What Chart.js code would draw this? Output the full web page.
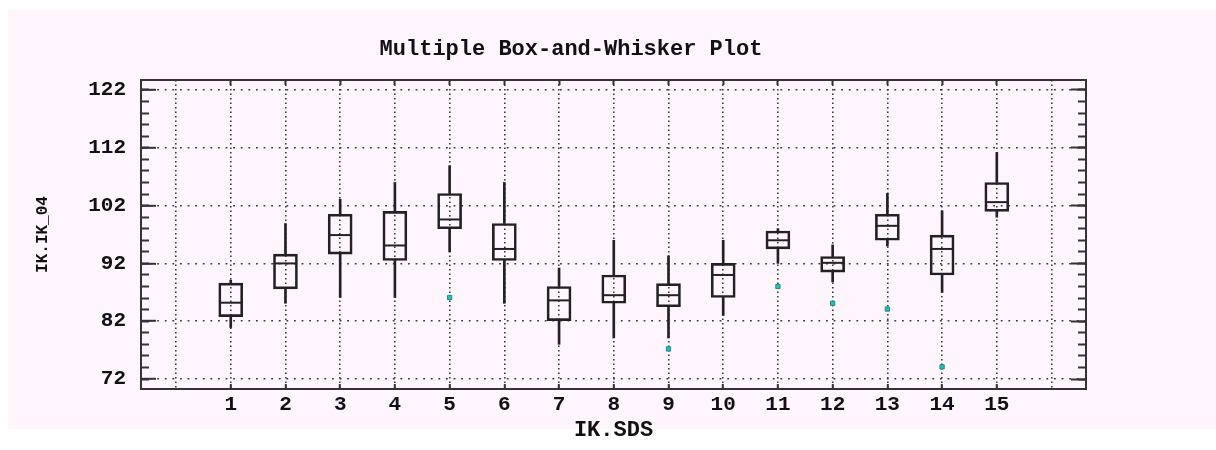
<!DOCTYPE html>
<html>
<head>
<meta charset="utf-8">
<script src="https://cdn.jsdelivr.net/npm/chart.js@4.4.1/dist/chart.umd.min.js"></script>
<style>
  html, body { margin: 0; padding: 0; background: #ffffff; }
  canvas { display: block; }
</style>
</head>
<body>
<canvas id="chart" width="1216" height="450"></canvas>
<script>
// Groups on the horizontal axis (IK.SDS)
const groups = [1, 2, 3, 4, 5, 6, 7, 8, 9, 10, 11, 12, 13, 14, 15];

// Five-number summaries of IK.IK_04 per group
const whiskerLow  = [80.9, 85.1, 86.1, 86.1, 94.0, 85.1, 78.0, 79.1, 79.1, 83.0, 92.0, 88.8, 95.0, 87.0, 100.0];
const q1          = [82.8, 87.6, 93.6, 92.5, 98.0, 92.5, 82.1, 85.1, 84.5, 86.1, 94.5, 90.5, 96.0, 90.0, 101.0];
const median      = [85.2, 92.0, 96.9, 95.1, 99.6, 94.5, 85.6, 86.5, 86.5, 90.0, 96.0, 92.1, 98.5, 94.5, 102.6];
const q3          = [88.6, 93.6, 100.5, 101.0, 104.1, 98.9, 88.0, 90.0, 88.5, 92.0, 97.6, 93.2, 100.5, 96.9, 106.0];
const whiskerHigh = [89.1, 98.9, 103.1, 106.0, 108.9, 106.0, 91.2, 96.0, 93.3, 96.0, 98.0, 95.2, 104.1, 101.1, 111.2];

// Outside points
const outlierGroups = [5, 9, 11, 12, 13, 14];
const outlierValues = [86.1, 77.2, 88.0, 85.1, 84.1, 74.1];

// Axis ticks
const yMajorTicks = [72, 82, 92, 102, 112, 122];
const yMinorTicks = [72, 74, 76, 78, 80, 82, 84, 86, 88, 90, 92, 94, 96, 98, 100, 102, 104, 106, 108, 110, 112, 114, 116, 118, 120, 122];
const xGridTicks = [0, 1, 2, 3, 4, 5, 6, 7, 8, 9, 10, 11, 12, 13, 14, 15, 16];
const xTickLabels = ['1', '2', '3', '4', '5', '6', '7', '8', '9', '10', '11', '12', '13', '14', '15'];

const INK = '#222222';
const AXIS = '#333333';
const DOTS = '#3a3a3a';
const FONT = "'Liberation Mono', 'DejaVu Sans Mono', monospace";

Chart.defaults.font.family = FONT;
Chart.defaults.color = '#111111';

const boxes = groups.map((g, i) => ({ x: g, y: [q1[i], q3[i]] }));
const lowerWhiskers = groups.map((g, i) => ({ x: g, y: [whiskerLow[i], q1[i]] }));
const upperWhiskers = groups.map((g, i) => ({ x: g, y: [q3[i], whiskerHigh[i]] }));
const medians = groups.map((g, i) => ({ x: g, y: median[i] }));
const outliers = outlierGroups.map((g, i) => ({ x: g, y: outlierValues[i] }));

// Light panel behind the whole figure
const pagePanel = {
  id: 'pagePanel',
  beforeDraw(chart) {
    const c = chart.ctx;
    c.save();
    c.fillStyle = '#fff5fd';
    c.fillRect(8, 10, 1208, 419);
    c.restore();
  }
};

const inGroupRange = v => v >= 1 && v <= 15;
const setTicks = list => scale => { scale.ticks = list.map(v => ({ value: v })); };

const X_MIN = -0.64, X_MAX = 16.63;
const Y_MIN = 70.27, Y_MAX = 123.73;

new Chart(document.getElementById('chart'), {
  type: 'bar',
  data: {
    datasets: [
      {
        type: 'scatter', data: outliers, xAxisID: 'x', yAxisID: 'y',
        pointStyle: 'rect', pointRadius: 3, pointHoverRadius: 3,
        backgroundColor: '#34b9b6', borderColor: '#15908e', borderWidth: 1
      },
      {
        type: 'scatter', data: medians, xAxisID: 'x', yAxisID: 'y',
        pointStyle: 'line', pointRadius: 11.5, pointHoverRadius: 11.5,
        borderColor: INK, borderWidth: 2
      },
      {
        type: 'bar', data: boxes, xAxisID: 'x', yAxisID: 'y', grouped: false,
        barThickness: 24, backgroundColor: 'rgba(0,0,0,0)',
        borderColor: INK, borderWidth: 2, borderSkipped: false
      },
      {
        type: 'bar', data: lowerWhiskers, xAxisID: 'x', yAxisID: 'y', grouped: false,
        barThickness: 2, backgroundColor: INK, borderWidth: 0
      },
      {
        type: 'bar', data: upperWhiskers, xAxisID: 'x', yAxisID: 'y', grouped: false,
        barThickness: 2, backgroundColor: INK, borderWidth: 0
      }
    ]
  },
  options: {
    responsive: false,
    animation: false,
    events: [],
    layout: { padding: { left: 0, right: 74, top: 0, bottom: 0 } },
    plugins: {
      legend: { display: false },
      tooltip: { enabled: false },
      title: {
        display: true,
        text: 'Multiple Box-and-Whisker Plot',
        color: '#111111',
        font: { family: FONT, size: 22, weight: 'bold', lineHeight: 1.2 },
        padding: { top: 35.8, bottom: 17.8 }
      }
    },
    scales: {
      x: {
        type: 'linear', position: 'bottom', min: X_MIN, max: X_MAX, offset: false,
        afterBuildTicks: setTicks(xGridTicks),
        afterFit: s => { s.height = 61; },
        grid: {
          offset: false, color: DOTS, lineWidth: 1.6,
          drawTicks: true, tickLength: -5, tickWidth: 2,
          tickColor: c => (c.tick && inGroupRange(c.tick.value)) ? AXIS : 'rgba(0,0,0,0)'
        },
        border: { display: true, color: AXIS, width: 2, dash: [1.6, 2.9] },
        ticks: {
          autoSkip: false, maxRotation: 0, padding: 8.4, color: '#111111',
          font: { size: 21, weight: 'bold' },
          callback: v => inGroupRange(v) ? xTickLabels[v - 1] : ''
        },
        title: {
          display: true, text: 'IK.SDS', color: '#111111',
          font: { size: 22, weight: 'bold', lineHeight: 1.2 },
          padding: { top: 0, bottom: 6.8 }
        }
      },
      xTop: {
        type: 'linear', position: 'top', min: X_MIN, max: X_MAX, offset: false,
        afterBuildTicks: setTicks(xGridTicks),
        afterFit: s => { s.height = 0; },
        grid: {
          offset: false, drawOnChartArea: false, drawTicks: true, tickLength: -5, tickWidth: 2,
          color: AXIS,
          tickColor: c => (c.tick && inGroupRange(c.tick.value)) ? AXIS : 'rgba(0,0,0,0)'
        },
        border: { display: true, color: AXIS, width: 2 },
        ticks: { display: false, autoSkip: false }
      },
      y: {
        type: 'linear', position: 'left', weight: 1, min: Y_MIN, max: Y_MAX,
        afterBuildTicks: setTicks(yMajorTicks),
        afterFit: s => { s.width = 141; },
        grid: {
          color: DOTS, lineWidth: 1.6,
          drawTicks: true, tickLength: -15, tickWidth: 2, tickColor: AXIS
        },
        border: { display: true, color: AXIS, width: 2, dash: [1.8, 5.8] },
        ticks: {
          autoSkip: false, padding: 30, color: '#111111',
          font: { size: 21, weight: 'bold' },
          callback: v => String(v)
        },
        title: {
          display: true, text: 'IK.IK_04', color: '#111111',
          font: { size: 16, weight: 'bold', lineHeight: 1.2 },
          padding: { top: 33.4, bottom: 0 }
        }
      },
      yMinor: {
        type: 'linear', position: 'left', weight: 0, min: Y_MIN, max: Y_MAX,
        afterBuildTicks: setTicks(yMinorTicks),
        afterFit: s => { s.width = 0; },
        grid: { drawOnChartArea: false, drawTicks: true, tickLength: -8, tickWidth: 2, color: AXIS, tickColor: AXIS },
        border: { display: false },
        ticks: { display: false, autoSkip: false }
      },
      yRight: {
        type: 'linear', position: 'right', weight: 1, min: Y_MIN, max: Y_MAX,
        afterBuildTicks: setTicks(yMajorTicks),
        afterFit: s => { s.width = 56; },
        grid: { drawOnChartArea: false, drawTicks: true, tickLength: -15, tickWidth: 2, color: AXIS, tickColor: AXIS },
        border: { display: true, color: AXIS, width: 2 },
        ticks: { display: false, autoSkip: false }
      },
      yRightMinor: {
        type: 'linear', position: 'right', weight: 0, min: Y_MIN, max: Y_MAX,
        afterBuildTicks: setTicks(yMinorTicks),
        afterFit: s => { s.width = 0; },
        grid: { drawOnChartArea: false, drawTicks: true, tickLength: -8, tickWidth: 2, color: AXIS, tickColor: AXIS },
        border: { display: false },
        ticks: { display: false, autoSkip: false }
      }
    }
  },
  plugins: [pagePanel]
});
</script>
</body>
</html>
